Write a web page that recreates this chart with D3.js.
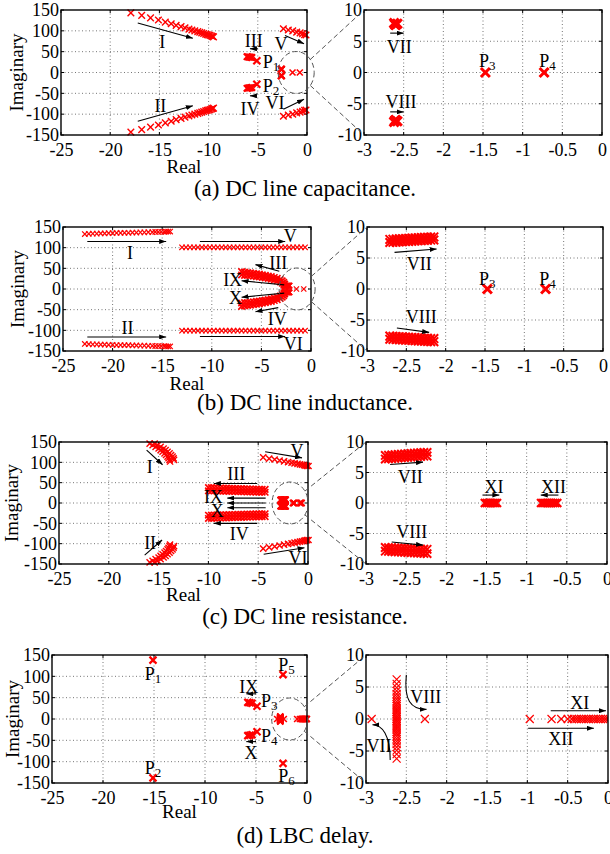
<!DOCTYPE html>
<html><head><meta charset="utf-8">
<script src="https://cdn.jsdelivr.net/npm/d3@7"></script>
<style>
body{margin:0;background:#fff;}
svg text{font-family:"Liberation Serif","Times New Roman",serif;fill:#000;}
</style></head><body>
<svg id="c" width="610" height="854"></svg>
<script>
// ---------- tick labels ----------
const leftXTicks = [-25,-20,-15,-10,-5,0];
const leftYTicks = [-150,-100,-50,0,50,100,150];
const rightXTicks = [-3,-2.5,-2,-1.5,-1,-0.5,0];
const rightYTicks = [-10,-5,0,5,10];
const captions = ["(a) DC line capacitance.","(b) DC line inductance.","(c) DC line resistance.","(d) LBC delay."];

// ---------- (a) DC line capacitance ----------
const aI = [[-17.9,143],[-16.8,137],[-15.9,131],[-15.1,126],[-14.4,121],[-13.8,117],[-13.3,113],[-12.8,110],[-12.4,107],[-12.0,104],[-11.7,102],[-11.4,100],[-11.1,98],[-10.9,96.5],[-10.7,95],[-10.5,93.5],[-10.3,92],[-10.15,91],[-10.0,90],[-9.85,89],[-9.7,87.5],[-9.6,86.5],[-9.5,85.5]];
const aII = [[-17.9,-143],[-16.8,-137],[-15.9,-131],[-15.1,-126],[-14.4,-121],[-13.8,-117],[-13.3,-113],[-12.8,-110],[-12.4,-107],[-12.0,-104],[-11.7,-102],[-11.4,-100],[-11.1,-98],[-10.9,-96.5],[-10.7,-95],[-10.5,-93.5],[-10.3,-92],[-10.15,-91],[-10.0,-90],[-9.85,-89],[-9.7,-87.5],[-9.6,-86.5],[-9.5,-85.5]];
const aIII = [[-6.1,38],[-6.0,37.5],[-5.9,37],[-5.8,37],[-5.7,36.5],[-5.6,36]];
const aIV = [[-6.1,-38],[-6.0,-37.5],[-5.9,-37],[-5.8,-37],[-5.7,-36.5],[-5.6,-36]];
const aP12 = [[-5.1,28],[-5.1,-28]];
const aV = [[-2.4,105],[-1.9,102],[-1.45,100],[-1.05,97],[-0.7,95],[-0.45,93],[-0.25,91],[-0.1,90]];
const aVI = [[-2.4,-105],[-1.9,-102],[-1.45,-100],[-1.05,-97],[-0.7,-95],[-0.45,-93],[-0.25,-91],[-0.1,-90]];
const aVII = [[-2.62,7.9],[-2.6,7.6],[-2.58,7.8],[-2.61,7.7]];
const aVIII = [[-2.62,-7.9],[-2.6,-7.6],[-2.58,-7.8],[-2.61,-7.7]];
const aP34 = [[-1.47,0],[-0.73,0]];

// ---------- (b) DC line inductance ----------
const bI = [[-22.8,133],[-22.4,133.5],[-22.0,134],[-21.6,134],[-21.2,134.5],[-20.8,134.5],[-20.4,135],[-20.0,135],[-19.6,135.5],[-19.2,135.5],[-18.8,136],[-18.4,136],[-18.0,136.5],[-17.6,136.5],[-17.2,137],[-16.8,137],[-16.4,137.5],[-16.0,137.5],[-15.7,138],[-15.4,138],[-15.1,138.5],[-14.8,138.5],[-14.6,139],[-14.4,139],[-14.2,139]];
const bII = [[-22.8,-133],[-22.4,-133.5],[-22.0,-134],[-21.6,-134],[-21.2,-134.5],[-20.8,-134.5],[-20.4,-135],[-20.0,-135],[-19.6,-135.5],[-19.2,-135.5],[-18.8,-136],[-18.4,-136],[-18.0,-136.5],[-17.6,-136.5],[-17.2,-137],[-16.8,-137],[-16.4,-137.5],[-16.0,-137.5],[-15.7,-138],[-15.4,-138],[-15.1,-138.5],[-14.8,-138.5],[-14.6,-139],[-14.4,-139],[-14.2,-139]];
const bV = [[-13.0,101],[-12.6,101],[-12.2,101],[-11.8,101],[-11.4,101],[-11.0,101],[-10.6,101],[-10.2,101],[-9.8,101],[-9.4,101],[-9.0,101],[-8.6,101],[-8.2,101],[-7.8,101],[-7.4,101],[-7.0,101],[-6.6,101],[-6.2,101],[-5.8,101],[-5.4,101],[-5.0,101],[-4.6,101],[-4.2,101],[-3.8,101],[-3.4,101],[-3.0,101],[-2.6,101],[-2.2,101],[-1.8,101],[-1.4,101],[-1.0,101],[-0.6,101]];
const bVI = [[-13.0,-101],[-12.6,-101],[-12.2,-101],[-11.8,-101],[-11.4,-101],[-11.0,-101],[-10.6,-101],[-10.2,-101],[-9.8,-101],[-9.4,-101],[-9.0,-101],[-8.6,-101],[-8.2,-101],[-7.8,-101],[-7.4,-101],[-7.0,-101],[-6.6,-101],[-6.2,-101],[-5.8,-101],[-5.4,-101],[-5.0,-101],[-4.6,-101],[-4.2,-101],[-3.8,-101],[-3.4,-101],[-3.0,-101],[-2.6,-101],[-2.2,-101],[-1.8,-101],[-1.4,-101],[-1.0,-101],[-0.6,-101]];
const bIII = [[-7.0,42],[-6.7,41],[-6.4,40],[-6.1,39],[-5.8,38],[-5.5,37],[-5.2,36],[-4.9,34.5],[-4.6,33],[-4.3,31.5],[-4.0,30],[-3.7,28],[-3.4,26],[-3.1,23],[-2.9,20],[-2.75,16],[-2.65,12]];
const bIX = [[-7.0,34],[-6.7,33],[-6.4,32.5],[-6.1,32],[-5.8,31],[-5.5,30],[-5.2,29],[-4.9,28],[-4.6,27],[-4.3,25.5],[-4.0,24],[-3.7,22],[-3.4,20],[-3.1,17],[-2.9,14],[-2.75,11]];
const bIV = [[-7.0,-42],[-6.7,-41],[-6.4,-40],[-6.1,-39],[-5.8,-38],[-5.5,-37],[-5.2,-36],[-4.9,-34.5],[-4.6,-33],[-4.3,-31.5],[-4.0,-30],[-3.7,-28],[-3.4,-26],[-3.1,-23],[-2.9,-20],[-2.75,-16],[-2.65,-12]];
const bX = [[-7.0,-34],[-6.7,-33],[-6.4,-32.5],[-6.1,-32],[-5.8,-31],[-5.5,-30],[-5.2,-29],[-4.9,-28],[-4.6,-27],[-4.3,-25.5],[-4.0,-24],[-3.7,-22],[-3.4,-20],[-3.1,-17],[-2.9,-14],[-2.75,-11]];
const bVII = [[-2.71,8.0],[-2.67,8.03],[-2.63,8.06],[-2.59,8.09],[-2.55,8.12],[-2.51,8.15],[-2.47,8.18],[-2.43,8.21],[-2.39,8.24],[-2.35,8.27],[-2.31,8.3],[-2.27,8.33],[-2.23,8.36],[-2.19,8.39],[-2.15,8.4],
  [-2.71,7.5],[-2.67,7.53],[-2.63,7.56],[-2.59,7.59],[-2.55,7.62],[-2.51,7.65],[-2.47,7.68],[-2.43,7.71],[-2.39,7.74],[-2.35,7.77],[-2.31,7.8],[-2.27,7.83],[-2.23,7.86],[-2.19,7.89],[-2.15,7.9]];
const bVIII = [[-2.71,-7.6],[-2.67,-7.63],[-2.63,-7.66],[-2.59,-7.69],[-2.55,-7.72],[-2.51,-7.75],[-2.47,-7.78],[-2.43,-7.81],[-2.39,-7.84],[-2.35,-7.87],[-2.31,-7.9],[-2.27,-7.93],[-2.23,-7.96],[-2.19,-7.99],[-2.15,-8.0],
  [-2.71,-8.1],[-2.67,-8.13],[-2.63,-8.16],[-2.59,-8.19],[-2.55,-8.22],[-2.51,-8.25],[-2.47,-8.28],[-2.43,-8.31],[-2.39,-8.34],[-2.35,-8.37],[-2.31,-8.4],[-2.27,-8.43],[-2.23,-8.46],[-2.19,-8.49],[-2.15,-8.5]];
const bP34 = [[-1.47,0],[-0.73,0]];

// ---------- (c) DC line resistance ----------
const cI = [[-15.9,146],[-15.6,142],[-15.3,138],[-15.0,134],[-14.8,130],[-14.6,126],[-14.4,122],[-14.25,118],[-14.1,114],[-14.0,110],[-13.9,106],[-13.85,102],
  [-15.4,146],[-15.1,142],[-14.8,138],[-14.5,134],[-14.3,130],[-14.1,126],[-13.9,122],[-13.75,118],[-13.6,114],[-13.5,110],[-13.45,106]];
const cII = [[-15.9,-146],[-15.6,-142],[-15.3,-138],[-15.0,-134],[-14.8,-130],[-14.6,-126],[-14.4,-122],[-14.25,-118],[-14.1,-114],[-14.0,-110],[-13.9,-106],[-13.85,-102],
  [-15.4,-146],[-15.1,-142],[-14.8,-138],[-14.5,-134],[-14.3,-130],[-14.1,-126],[-13.9,-122],[-13.75,-118],[-13.6,-114],[-13.5,-110],[-13.45,-106]];
const cIII = [[-10.0,38],[-9.7,37.8],[-9.4,37.5],[-9.1,37.3],[-8.8,37],[-8.5,36.8],[-8.2,36.5],[-7.9,36.3],[-7.6,36],[-7.3,35.8],[-7.0,35.5],[-6.7,35.3],[-6.4,35],[-6.1,34.8],[-5.8,34.5],[-5.5,34.3],[-5.2,34],[-4.9,33.8],[-4.6,33.5],[-4.3,33.4]];
const cIX = [[-10.0,30],[-9.7,29.8],[-9.4,29.6],[-9.1,29.4],[-8.8,29.2],[-8.5,29],[-8.2,28.8],[-7.9,28.6],[-7.6,28.4],[-7.3,28.2],[-7.0,28],[-6.7,27.8],[-6.4,27.6],[-6.1,27.4],[-5.8,27.2],[-5.5,27],[-5.2,26.8],[-4.9,26.6],[-4.6,26.4],[-4.3,26.3]];
const cX = [[-10.0,-30],[-9.7,-29.8],[-9.4,-29.6],[-9.1,-29.4],[-8.8,-29.2],[-8.5,-29],[-8.2,-28.8],[-7.9,-28.6],[-7.6,-28.4],[-7.3,-28.2],[-7.0,-28],[-6.7,-27.8],[-6.4,-27.6],[-6.1,-27.4],[-5.8,-27.2],[-5.5,-27],[-5.2,-26.8],[-4.9,-26.6],[-4.6,-26.4],[-4.3,-26.3]];
const cIV = [[-10.0,-38],[-9.7,-37.8],[-9.4,-37.5],[-9.1,-37.3],[-8.8,-37],[-8.5,-36.8],[-8.2,-36.5],[-7.9,-36.3],[-7.6,-36],[-7.3,-35.8],[-7.0,-35.5],[-6.7,-35.3],[-6.4,-35],[-6.1,-34.8],[-5.8,-34.5],[-5.5,-34.3],[-5.2,-34],[-4.9,-33.8],[-4.6,-33.5],[-4.3,-33.4]];
const cV = [[-4.5,112],[-3.9,109],[-3.35,107],[-2.85,104.5],[-2.4,102.5],[-2.0,100.5],[-1.65,99],[-1.35,97.5],[-1.05,96],[-0.8,95],[-0.6,94],[-0.4,93],[-0.25,92],[-0.1,91.5],[0.05,91]];
const cVI = [[-4.5,-112],[-3.9,-109],[-3.35,-107],[-2.85,-104.5],[-2.4,-102.5],[-2.0,-100.5],[-1.65,-99],[-1.35,-97.5],[-1.05,-96],[-0.8,-95],[-0.6,-94],[-0.4,-93],[-0.25,-92],[-0.1,-91.5],[0.05,-91]];
const cVII = [[-2.76,7.8],[-2.72,7.84],[-2.68,7.88],[-2.64,7.92],[-2.60,7.96],[-2.56,8.0],[-2.52,8.04],[-2.48,8.08],[-2.44,8.12],[-2.40,8.16],[-2.36,8.2],[-2.32,8.24],[-2.28,8.28],[-2.24,8.3],
  [-2.76,7.2],[-2.72,7.24],[-2.68,7.28],[-2.64,7.32],[-2.60,7.36],[-2.56,7.4],[-2.52,7.44],[-2.48,7.48],[-2.44,7.52],[-2.40,7.56],[-2.36,7.6],[-2.32,7.64],[-2.28,7.68],[-2.24,7.7]];
const cVIII = [[-2.76,-7.3],[-2.72,-7.32],[-2.68,-7.34],[-2.64,-7.36],[-2.60,-7.38],[-2.56,-7.4],[-2.52,-7.42],[-2.48,-7.44],[-2.44,-7.46],[-2.40,-7.5],[-2.36,-7.52],[-2.32,-7.55],[-2.28,-7.58],[-2.24,-7.6],
  [-2.76,-7.9],[-2.72,-7.93],[-2.68,-7.96],[-2.64,-7.99],[-2.60,-8.02],[-2.56,-8.05],[-2.52,-8.08],[-2.48,-8.11],[-2.44,-8.14],[-2.40,-8.17],[-2.36,-8.2],[-2.32,-8.23],[-2.28,-8.26],[-2.24,-8.3]];
const cXI = [[-1.52,0],[-1.495,0],[-1.47,0],[-1.445,0],[-1.42,0],[-1.395,0],[-1.37,0]];
const cXII = [[-0.82,0],[-0.795,0],[-0.77,0],[-0.745,0],[-0.72,0],[-0.695,0],[-0.67,0],[-0.645,0],[-0.62,0]];

// ---------- (d) LBC delay ----------
const dP = [[-15.1,138],[-15.1,-138],[-2.35,104],[-2.35,-104],[-4.9,30],[-4.9,-30]];
const dIX = [[-5.8,39],[-5.6,38],[-5.4,37]];
const dX = [[-5.8,-39],[-5.6,-38],[-5.4,-37]];
const dVII = [[-2.62,6.2],[-2.62,5.5],[-2.62,4.9],[-2.62,4.4],[-2.62,3.9],[-2.62,3.5],[-2.62,3.1],[-2.62,2.7],[-2.62,2.3],[-2.62,2.0],[-2.62,1.7],[-2.62,1.4],[-2.62,1.1],[-2.62,0.8],[-2.62,0.5],[-2.62,0.25],[-2.62,0],
  [-2.62,-0.25],[-2.62,-0.5],[-2.62,-0.8],[-2.62,-1.1],[-2.62,-1.4],[-2.62,-1.7],[-2.62,-2.0],[-2.62,-2.3],[-2.62,-2.7],[-2.62,-3.1],[-2.62,-3.5],[-2.62,-3.9],[-2.62,-4.4],[-2.62,-4.9],[-2.62,-5.5],[-2.62,-6.2],
  [-2.93,0],[-2.27,0]];
const dXI = [[-0.97,0],[-0.70,0],[-0.58,0],[-0.50,0],[-0.45,0],[-0.42,0],[-0.39,0],[-0.36,0],[-0.33,0],[-0.30,0],[-0.27,0],[-0.24,0],[-0.21,0],[-0.18,0],[-0.15,0],[-0.12,0],[-0.09,0],[-0.06,0],[-0.03,0],[0,0]];

// ---------- layout (pixel boxes) and styles ----------
const panels = [
 { L:[61,307,10,135], R:[364,602,10,135], cap:196, realY:173, imagX:16, circ:[-1.1,0],
   Lser:[[aI,3.3,1.4],[aII,3.3,1.4],[aIII,3.2,2],[aIV,3.2,2],[aP12,3.5,2.2],[aV,3.3,1.4],[aVI,3.3,1.4],[aVII,3.2,2],[aVIII,3.2,2],[aP34,3,1.6]],
   Rser:[[aVII,4.5,3],[aVIII,4.5,3],[aP34,4.5,3]],
   Llab:[["I",-14.7,75],["II",-14.9,-80],["III",-5.4,77],["IV",-5.8,-87],["V",-2.65,68],["VI",-3.25,-72]],
   Lp:[["1",-4.5,27,"start"],["2",-4.5,-31,"start"]],
   Larr:[[-17.2,119,-11.6,82],[-17.2,-117,-11.6,-80],[-5.0,57,-5.8,57],[-5.1,-56,-5.8,-56],[-2.24,89,-0.3,69],[-2.4,-88,-0.3,-64]],
   Rlab:[["VII",-2.555,4.2],["VIII",-2.535,-4.65]],
   Rp:[["3",-1.55,1.9,"start"],["4",-0.79,1.9,"start"]],
   Rarr:[[-2.67,6.3,-2.5,6.3],[-2.67,-6.3,-2.5,-6.3]], Rcurve:[] },
 { L:[63,311,227,351], R:[367,603,227,351], cap:410, realY:390, imagX:17, circ:[-1.4,0],
   Lser:[[bI,2.7,1.2],[bII,2.7,1.2],[bV,2.7,1.2],[bVI,2.7,1.2],[bIII,3.2,1.7],[bIX,3.2,1.7],[bIV,3.2,1.7],[bX,3.2,1.7],[bVII,2.6,1.2],[bVIII,2.6,1.2],[bP34,2.6,1.2]],
   Rser:[[bVII,4.3,2],[bVIII,4.3,2],[bP34,4.5,3]],
   Llab:[["I",-18.25,87],["II",-18.5,-93],["V",-2.1,128],["VI",-1.8,-133],["III",-3.3,63],["IX",-7.9,22],["X",-7.6,-22],["IV",-3.4,-71]],
   Lp:[],
   Larr:[[-22.55,115,-14.6,115],[-22.55,-116,-14.6,-116],[-11.2,115,-2.6,115],[-11.2,-115,-2.6,-115],[-3.2,43,-5.6,59],[-2.7,10,-7.0,20],[-2.7,-10,-7.0,-20],[-3.3,-45,-5.6,-55]],
   Rlab:[["VII",-2.335,4.1],["VIII",-2.31,-4.5]],
   Rp:[["3",-1.575,1.6,"start"],["4",-0.81,1.6,"start"]],
   Rarr:[[-2.65,5.9,-2.115,6.45],[-2.62,-6.3,-2.21,-7.0]], Rcurve:[] },
 { L:[59,308,442,564], R:[366,607,442,564], cap:624, realY:601, imagX:11, circ:[-1.8,0],
   Lser:[[cI,3.1,1.4],[cII,3.1,1.4],[cIII,3.2,1.7],[cIX,3.2,1.7],[cX,3.2,1.7],[cIV,3.2,1.7],[cV,3.1,1.4],[cVI,3.1,1.4],[cVII,3,1.6],[cVIII,3,1.6],[cXI,3,1.4],[cXII,3,1.4]],
   Rser:[[cVII,4.2,2],[cVIII,4.2,2],[cXI,4,2.4],[cXII,4,2.4]],
   Llab:[["I",-15.9,89],["II",-15.85,-97],["III",-7.2,71],["IV",-6.9,-74.5],["IX",-9.5,15],["X",-9.1,-19],["V",-1.1,128],["VI",-1.0,-134]],
   Lp:[],
   Larr:[[-16.2,130,-14.6,94],[-16.4,-128,-14.65,-91],[-5.1,48,-9.45,48],[-5.1,-50,-9.45,-50],[-4.25,12,-8.1,12],[-4.25,0,-8.1,0],[-4.25,-11.5,-8.1,-11.5],[-4.3,126,-0.6,111],[-4.45,-126,-0.35,-110]],
   Rlab:[["VII",-2.45,4.3],["VIII",-2.43,-4.7],["XI",-1.406,2.7],["XII",-0.667,2.7]],
   Rp:[],
   Rarr:[[-2.70,6.3,-2.29,6.7],[-2.68,-6.4,-2.29,-6.9],[-1.55,1.3,-1.34,1.3],[-0.605,1.3,-0.825,1.3]], Rcurve:[] },
 { L:[52,307,655,783], R:[366,608,655,783], cap:843, realY:818, imagX:12, circ:[-1.7,0],
   Lser:[[dP,3.5,2.2],[dIX,3.5,2.2],[dX,3.5,2.2],[dVII,3,1.6],[dXI,3,1.6]],
   Rser:[[dVII,4,1.2],[dXI,4,1.2]],
   Llab:[["IX",-5.7,76],["X",-5.5,-79]],
   Lp:[["1",-15.1,106,"middle"],["2",-15.1,-113,"middle"],["5",-2.0,128,"middle"],["6",-2.0,-132,"middle"],["3",-4.5,42,"start"],["4",-4.5,-40,"start"]],
   Larr:[[-5.0,59,-5.95,59],[-5.0,-53,-5.95,-53]],
   Rlab:[["VIII",-2.26,3.5],["VII",-2.84,-4.1],["XI",-0.35,2.6],["XII",-0.585,-3.1]],
   Rp:[],
   Rarr:[[-0.71,1.3,-0.025,1.3],[-0.99,-1.45,-0.175,-1.45]],
   Rcurve:[[-2.5,6.9,-2.53,3.0,-2.45,1.5,-2.25,1.5],[-2.7,-6.4,-2.7,-2.5,-2.8,-0.9,-2.92,-0.9]] }
];

const svg = d3.select("#c");
const defs = svg.append("defs");
defs.append("marker").attr("id","ah").attr("viewBox","0 0 7 5").attr("refX",7).attr("refY",2.5)
  .attr("markerWidth",7).attr("markerHeight",5).attr("markerUnits","userSpaceOnUse").attr("orient","auto")
  .append("path").attr("d","M0,0L7,2.5L0,5Z").attr("fill","#000");

function crossPath(x,y,h){return `M${x-h},${y-h}L${x+h},${y+h}M${x-h},${y+h}L${x+h},${y-h}`;}

function drawPlot(g, box, xd, yd, xt, yt, ser, labs, ps, arrs, curves, clipId) {
  const [x0,x1,y0,y1] = box;
  const sx = d3.scaleLinear().domain(xd).range([x0,x1]);
  const sy = d3.scaleLinear().domain(yd).range([y1,y0]);
  const grid = g.append("g").attr("stroke","#666").attr("stroke-width",0.9).attr("stroke-dasharray","1,2.5");
  xt.filter(v=>v!==xd[0]&&v!==xd[1]).forEach(v=>grid.append("line").attr("x1",sx(v)).attr("x2",sx(v)).attr("y1",y0).attr("y2",y1));
  yt.filter(v=>v!==yd[0]&&v!==yd[1]).forEach(v=>grid.append("line").attr("y1",sy(v)).attr("y2",sy(v)).attr("x1",x0).attr("x2",x1));
  const ax = g.append("g").attr("transform",`translate(0,${y1})`)
    .call(d3.axisBottom(sx).tickValues(xt).tickSize(0).tickPadding(8).tickFormat(d=>String(d)));
  ax.select(".domain").remove();
  ax.selectAll("text").attr("font-size",18).attr("fill","#000");
  const ay = g.append("g").attr("transform",`translate(${x0},0)`)
    .call(d3.axisLeft(sy).tickValues(yt).tickSize(0).tickPadding(2).tickFormat(d=>String(d)));
  ay.select(".domain").remove();
  ay.selectAll("text").attr("font-size",18).attr("fill","#000");
  const tk = g.append("g").attr("stroke","#000").attr("stroke-width",1);
  xt.forEach(v=>{tk.append("line").attr("x1",sx(v)).attr("x2",sx(v)).attr("y1",y1).attr("y2",y1-3);
                 tk.append("line").attr("x1",sx(v)).attr("x2",sx(v)).attr("y1",y0).attr("y2",y0+3);});
  yt.forEach(v=>{tk.append("line").attr("y1",sy(v)).attr("y2",sy(v)).attr("x1",x0).attr("x2",x0+3);
                 tk.append("line").attr("y1",sy(v)).attr("y2",sy(v)).attr("x1",x1).attr("x2",x1-3);});
  let dg = g.append("g");
  if (clipId) {
    defs.append("clipPath").attr("id",clipId).append("rect").attr("x",x0).attr("y",y0).attr("width",x1-x0).attr("height",y1-y0);
    dg.attr("clip-path",`url(#${clipId})`);
  }
  ser.forEach(([pts,h,sw])=>{
    dg.append("g").selectAll("path").data(pts).join("path")
      .attr("d",d=>crossPath(sx(d[0]),sy(d[1]),h))
      .attr("stroke","#ff0000").attr("stroke-width",sw).attr("fill","none");
  });
  g.append("rect").attr("x",x0).attr("y",y0).attr("width",x1-x0).attr("height",y1-y0)
    .attr("fill","none").attr("stroke","#000").attr("stroke-width",1.4);
  arrs.forEach(a=>g.append("line").attr("x1",sx(a[0])).attr("y1",sy(a[1])).attr("x2",sx(a[2])).attr("y2",sy(a[3]))
    .attr("stroke","#000").attr("stroke-width",1.1).attr("marker-end","url(#ah)"));
  curves.forEach(c=>g.append("path")
    .attr("d",`M${sx(c[0])},${sy(c[1])}C${sx(c[2])},${sy(c[3])} ${sx(c[4])},${sy(c[5])} ${sx(c[6])},${sy(c[7])}`)
    .attr("fill","none").attr("stroke","#000").attr("stroke-width",1.1).attr("marker-end","url(#ah)"));
  labs.forEach(l=>g.append("text").attr("x",sx(l[1])).attr("y",sy(l[2])).attr("dy","0.35em")
    .attr("text-anchor","middle").attr("font-size",18).text(l[0]));
  ps.forEach(p=>{
    const t = g.append("text").attr("x",sx(p[1])).attr("y",sy(p[2])).attr("dy","0.35em")
      .attr("text-anchor",p[3]).attr("font-size",18);
    t.append("tspan").text("P");
    t.append("tspan").attr("font-size",13).attr("dy",3).text(p[0]);
  });
  return {sx,sy};
}

panels.forEach((p,i)=>{
  const g = svg.append("g");
  const L = drawPlot(g, p.L, [-25,0], [-150,150], leftXTicks, leftYTicks, p.Lser, p.Llab, p.Lp, p.Larr, [], null);
  const R = drawPlot(g, p.R, [-3,0], [-10,10], rightXTicks, rightYTicks, p.Rser, p.Rlab, p.Rp, p.Rarr, p.Rcurve, "clip"+i);
  const cx = L.sx(p.circ[0]), cy = L.sy(p.circ[1]), rx = 18, ry = 21;
  g.append("ellipse").attr("cx",cx).attr("cy",cy).attr("rx",rx).attr("ry",ry)
    .attr("fill","none").attr("stroke","#555").attr("stroke-width",1).attr("stroke-dasharray","5,3");
  [[p.R[0],p.R[2]],[p.R[0],p.R[3]]].forEach(([tx,ty])=>{
    const dx = tx-cx, dy = ty-cy, k = 1/Math.sqrt((dx*dx)/(rx*rx)+(dy*dy)/(ry*ry));
    g.append("line").attr("x1",cx+dx*k).attr("y1",cy+dy*k).attr("x2",tx).attr("y2",ty)
      .attr("stroke","#555").attr("stroke-width",1).attr("stroke-dasharray","5,3");
  });
  g.append("text").attr("x",(p.L[0]+p.L[1])/2).attr("y",p.realY).attr("text-anchor","middle").attr("font-size",19).text("Real");
  g.append("text").attr("transform",`translate(${p.imagX},${(p.L[2]+p.L[3])/2}) rotate(-90)`).attr("dy","0.35em")
    .attr("text-anchor","middle").attr("font-size",19).text("Imaginary");
  g.append("text").attr("x",305).attr("y",p.cap).attr("text-anchor","middle").attr("font-size",23).text(captions[i]);
});
</script>
</body></html>
